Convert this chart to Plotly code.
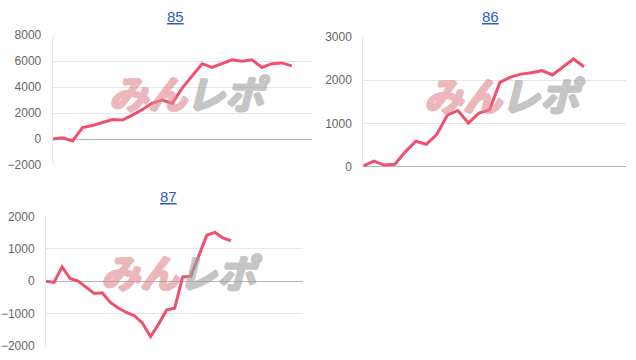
import plotly.graph_objects as go

# ---- data ----
titles = ["85", "86", "87"]
n_labels = [27, 26, 33]
s85 = [0, 100, -140, 880, 1050, 1290, 1500, 1470, 1840, 2280, 2770, 3010, 2750,
       3920, 4870, 5800, 5520, 5800, 6100, 5990, 6100, 5510, 5800, 5860, 5630]
s86 = [20, 130, 40, 60, 345, 590, 520, 750, 1190, 1300, 1010, 1240, 1310,
       1950, 2070, 2140, 2170, 2220, 2120, 2310, 2490, 2310]
s87 = [0, -40, 440, 80, 0, -180, -380, -360, -660, -830, -970, -1070, -1300,
       -1720, -1330, -890, -840, 130, 150, 780, 1420, 1510, 1340, 1250]
series = [s85, s86, s87]
y_ranges = [[-2000, 8000], [0, 3000], [-2000, 2000]]
y_dticks = [2000, 1000, 1000]

W, H = 636, 360
K = 0.967  # vertical compensation observed in rendering


def py(y):
    """reference pixel y -> paper fraction"""
    return 1 - (H / 2 + (y - H / 2) / K) / H


# plot areas in pixels: (left, right, top, bottom)
boxes = [(52.7, 311.7, 34.2, 165.0),
         (363.3, 626.0, 36.0, 166.7),
         (46.0, 303.3, 216.7, 346.8)]
title_pos = [(175.7, 16.0), (490.7, 16.0), (168.3, 197.0)]
wm_pos = [(188, 91), (503, 93.5), (180, 272)]

LINE = "rgb(240,80,110)"


def outline(c):
    return ", ".join(f"{dx}px {dy}px 0px {c}" for dx, dy in
                     [(1, 0), (-1, 0), (0, 1), (0, -1), (1, 1), (-1, -1)])


fig = go.Figure()
for i, (ys, box) in enumerate(zip(series, boxes)):
    l, r, t, b = box
    xa = "xaxis" if i == 0 else f"xaxis{i+1}"
    ya = "yaxis" if i == 0 else f"yaxis{i+1}"
    xr = "x" if i == 0 else f"x{i+1}"
    yr = "y" if i == 0 else f"y{i+1}"
    fig.add_trace(go.Scatter(x=list(range(len(ys))), y=ys, mode="lines",
                             line=dict(color=LINE, width=3),
                             xaxis=xr, yaxis=yr, hoverinfo="skip",
                             showlegend=False))
    fig.update_layout(**{
        xa: dict(domain=[l / W, r / W], range=[0, n_labels[i] - 1],
                 showgrid=False, zeroline=False, showticklabels=False,
                 showline=False, anchor=yr, fixedrange=True),
        ya: dict(domain=[py(b), py(t)], range=y_ranges[i],
                 dtick=y_dticks[i], tick0=0, showgrid=True,
                 gridcolor="#e6e6e6", gridwidth=1,
                 zeroline=True, zerolinecolor="#b5b5b5", zerolinewidth=1,
                 showline=True, linecolor="#e6e6e6", linewidth=1,
                 ticks="outside", ticklen=8, tickcolor="rgba(0,0,0,0)",
                 tickfont=dict(family="Liberation Sans, Arial, sans-serif",
                               size=12, color="#666666"),
                 anchor=xr, fixedrange=True),
    })
    tx, ty = title_pos[i]
    fig.add_annotation(x=tx / W, y=py(ty), xref="paper", yref="paper",
                       text=f"<u>{titles[i]}</u>", showarrow=False,
                       font=dict(family="Liberation Sans, Arial, sans-serif",
                                 size=15, color="#2b5fc4"),
                       xanchor="center", yanchor="middle")
    # watermark (two parts)
    wx, wy = wm_pos[i]
    pink, grey = "rgb(224,136,143)", "rgb(160,160,160)"
    fig.add_annotation(x=(wx + 2) / W, y=py(wy), xref="paper", yref="paper",
                       text="<b><i>みん</i></b>", showarrow=False, opacity=0.6,
                       font=dict(family="Noto Sans CJK JP", size=39, color=pink,
                                 shadow=outline(pink)),
                       xanchor="right", yanchor="middle")
    fig.add_annotation(x=(wx - 4) / W, y=py(wy), xref="paper", yref="paper",
                       text="<b><i>レポ</i></b>", showarrow=False, opacity=0.6,
                       font=dict(family="Noto Sans CJK JP", size=39, color=grey,
                                 shadow=outline(grey)),
                       xanchor="left", yanchor="middle")

fig.update_layout(width=W, height=H, margin=dict(l=0, r=0, t=0, b=0),
                  paper_bgcolor="white", plot_bgcolor="white")
fig.write_html("out.html")
